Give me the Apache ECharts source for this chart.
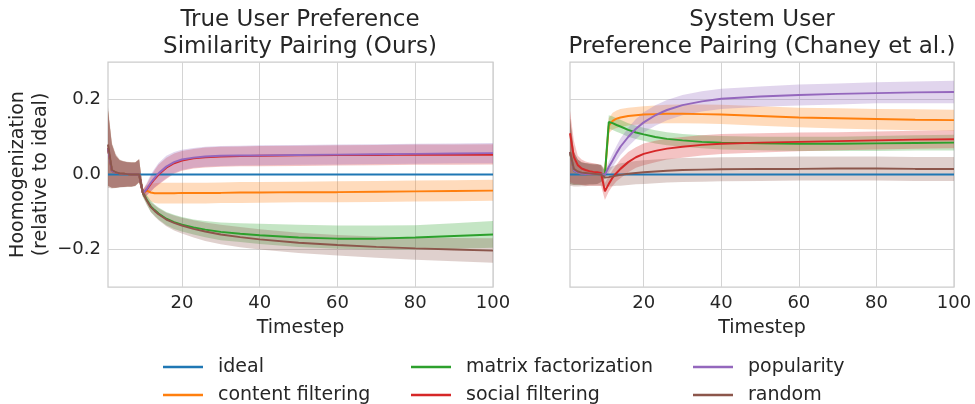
<!DOCTYPE html>
<html><head><meta charset="utf-8">
<script src="https://cdn.jsdelivr.net/npm/echarts@6/dist/echarts.min.js"></script>
<style>html,body{margin:0;padding:0;background:#fff}#c{width:975px;height:404px}</style>
</head><body><div id="c"></div>
<script>
// ---- data (timesteps sampled from the curves) ----
const xs = [1,2,3,4,5,6,7,8,9,10,11,12,13,14,16,18,20,23,26,30,35,40,50,60,70,80,90,100];
const xTicks = [20,40,60,80,100];
const yTicks = [-0.2,0,0.2];
const seriesNames = ['ideal','content filtering','matrix factorization','social filtering','popularity','random'];
const colors = ['#1f77b4','#ff7f0e','#2ca02c','#d62728','#9467bd','#8c564b'];
const titles = ['True User Preference\nSimilarity Pairing (Ours)','System User\nPreference Pairing (Chaney et al.)'];

// Left panel: True User Preference Similarity Pairing
const L_ideal   = [0,0,0,0,0,0,0,0,0,0,0,0,0,0,0,0,0,0,0,0,0,0,0,0,0,0,0,0];
const L_content = [0.07,0.01,0.005,0.003,0.002,0.001,0,0,0,-0.05,-0.043,-0.048,-0.05,-0.05,-0.05,-0.05,-0.049,-0.049,-0.049,-0.049,-0.048,-0.048,-0.047,-0.047,-0.046,-0.045,-0.044,-0.043];
const L_content_lo = [-0.03,-0.035,-0.035,-0.033,-0.033,-0.032,-0.032,-0.03,-0.02,-0.058,-0.06,-0.072,-0.076,-0.077,-0.077,-0.077,-0.077,-0.077,-0.077,-0.076,-0.076,-0.075,-0.074,-0.074,-0.073,-0.072,-0.071,-0.07];
const L_content_hi = [0.17,0.08,0.05,0.038,0.035,0.033,0.032,0.032,0.04,-0.04,-0.028,-0.025,-0.023,-0.022,-0.022,-0.022,-0.022,-0.022,-0.022,-0.021,-0.02,-0.02,-0.019,-0.018,-0.017,-0.016,-0.015,-0.014];
const L_matrix  = [0.07,0.01,0.005,0.003,0.002,0.001,0,0,0,-0.05,-0.068,-0.085,-0.095,-0.104,-0.118,-0.127,-0.134,-0.141,-0.147,-0.153,-0.158,-0.162,-0.168,-0.171,-0.171,-0.168,-0.164,-0.16];
const L_matrix_lo = [-0.03,-0.035,-0.035,-0.033,-0.033,-0.032,-0.032,-0.03,-0.02,-0.06,-0.08,-0.1,-0.11,-0.12,-0.135,-0.145,-0.152,-0.16,-0.167,-0.175,-0.18,-0.185,-0.193,-0.198,-0.2,-0.2,-0.198,-0.195];
const L_matrix_hi = [0.17,0.08,0.05,0.038,0.035,0.033,0.032,0.032,0.04,-0.04,-0.055,-0.07,-0.08,-0.088,-0.1,-0.107,-0.113,-0.12,-0.124,-0.128,-0.13,-0.131,-0.134,-0.136,-0.136,-0.135,-0.13,-0.124];
const L_social  = [0.07,0.01,0.005,0.003,0.002,0.001,0,0,0,-0.05,-0.04,-0.025,-0.012,0,0.018,0.03,0.037,0.043,0.046,0.048,0.049,0.05,0.051,0.052,0.052,0.053,0.053,0.053];
const L_social_lo = [-0.03,-0.035,-0.035,-0.033,-0.033,-0.032,-0.032,-0.03,-0.02,-0.06,-0.055,-0.045,-0.035,-0.027,-0.012,0.002,0.01,0.016,0.019,0.021,0.022,0.022,0.023,0.024,0.025,0.026,0.026,0.027];
const L_social_hi = [0.17,0.08,0.05,0.038,0.035,0.033,0.032,0.032,0.04,-0.04,-0.025,-0.005,0.012,0.027,0.045,0.056,0.063,0.068,0.072,0.074,0.075,0.076,0.077,0.078,0.079,0.08,0.08,0.081];
const L_pop     = [0.07,0.01,0.005,0.003,0.002,0.001,0,0,0,-0.05,-0.038,-0.022,-0.009,0.003,0.021,0.033,0.04,0.045,0.048,0.05,0.051,0.051,0.052,0.053,0.054,0.055,0.056,0.057];
const L_pop_lo = [-0.03,-0.035,-0.035,-0.033,-0.033,-0.032,-0.032,-0.03,-0.02,-0.06,-0.055,-0.045,-0.034,-0.025,-0.01,0.004,0.012,0.018,0.021,0.023,0.024,0.025,0.026,0.027,0.028,0.029,0.03,0.03];
const L_pop_hi = [0.17,0.08,0.05,0.038,0.035,0.033,0.032,0.032,0.04,-0.04,-0.022,0.0,0.016,0.031,0.05,0.06,0.066,0.071,0.074,0.076,0.077,0.078,0.079,0.08,0.081,0.082,0.083,0.084];
const L_random  = [0.08,0.012,0.006,0.003,0.002,0.001,0,0,0,-0.05,-0.07,-0.087,-0.097,-0.106,-0.12,-0.129,-0.136,-0.145,-0.152,-0.16,-0.167,-0.173,-0.182,-0.188,-0.193,-0.197,-0.2,-0.203];
const L_random_lo = [-0.035,-0.037,-0.036,-0.035,-0.034,-0.033,-0.033,-0.031,-0.022,-0.06,-0.082,-0.1,-0.112,-0.122,-0.138,-0.149,-0.157,-0.168,-0.177,-0.186,-0.194,-0.2,-0.209,-0.216,-0.222,-0.227,-0.231,-0.235];
const L_random_hi = [0.18,0.085,0.055,0.04,0.036,0.034,0.033,0.033,0.042,-0.04,-0.058,-0.074,-0.082,-0.09,-0.102,-0.109,-0.115,-0.122,-0.128,-0.134,-0.14,-0.146,-0.155,-0.161,-0.165,-0.168,-0.169,-0.17];

// Right panel: System User Preference Pairing
const R_ideal   = [0,0,0,0,0,0,0,0,0,0,0,0,0,0,0,0,0,0,0,0,0,0,0,0,0,0,0,0];
const R_content = [0.06,0.01,0.005,0.002,0.001,0,0,0,0,0,0.13,0.143,0.149,0.152,0.156,0.158,0.16,0.161,0.162,0.162,0.161,0.16,0.156,0.152,0.15,0.148,0.146,0.145];
const R_content_lo = [-0.025,-0.028,-0.028,-0.027,-0.027,-0.026,-0.026,-0.025,-0.02,-0.01,0.11,0.12,0.124,0.127,0.131,0.133,0.135,0.136,0.137,0.137,0.136,0.135,0.13,0.126,0.123,0.12,0.118,0.117];
const R_content_hi = [0.15,0.06,0.04,0.032,0.03,0.028,0.027,0.027,0.025,0.01,0.15,0.165,0.171,0.175,0.178,0.18,0.182,0.184,0.186,0.187,0.187,0.186,0.182,0.178,0.177,0.175,0.174,0.173];
const R_matrix  = [0.06,0.01,0.005,0.002,0.001,0,0,0,0,0,0.14,0.137,0.132,0.128,0.119,0.112,0.107,0.1,0.095,0.091,0.087,0.085,0.083,0.082,0.082,0.083,0.084,0.085];
const R_matrix_lo = [-0.025,-0.028,-0.028,-0.027,-0.027,-0.026,-0.026,-0.025,-0.02,-0.01,0.122,0.119,0.114,0.11,0.101,0.095,0.09,0.083,0.078,0.074,0.07,0.067,0.065,0.063,0.063,0.063,0.064,0.064];
const R_matrix_hi = [0.15,0.06,0.04,0.032,0.03,0.028,0.027,0.027,0.025,0.01,0.158,0.155,0.15,0.146,0.137,0.13,0.125,0.118,0.113,0.108,0.105,0.103,0.101,0.101,0.101,0.103,0.105,0.106];
const R_social  = [0.11,0.047,0.025,0.016,0.012,0.009,0.007,0.006,0.004,-0.045,-0.025,-0.008,0.004,0.015,0.033,0.046,0.055,0.063,0.069,0.074,0.079,0.082,0.085,0.087,0.089,0.091,0.093,0.094];
const R_social_lo = [-0.02,-0.025,-0.025,-0.028,-0.03,-0.03,-0.03,-0.03,-0.03,-0.068,-0.045,-0.03,-0.018,-0.01,0.006,0.018,0.025,0.033,0.04,0.045,0.051,0.055,0.059,0.062,0.065,0.067,0.069,0.07];
const R_social_hi = [0.17,0.09,0.05,0.04,0.035,0.032,0.03,0.028,0.025,-0.022,-0.005,0.012,0.026,0.04,0.06,0.073,0.083,0.09,0.096,0.1,0.105,0.108,0.11,0.112,0.113,0.115,0.117,0.118];
const R_pop     = [0.06,0.01,0.005,0.002,0.001,0,0,0,0,0,0.02,0.038,0.057,0.074,0.1,0.122,0.139,0.158,0.172,0.185,0.195,0.202,0.208,0.212,0.215,0.217,0.219,0.22];
const R_pop_lo = [-0.025,-0.028,-0.028,-0.027,-0.027,-0.026,-0.026,-0.025,-0.02,-0.008,0.005,0.02,0.036,0.052,0.075,0.095,0.112,0.13,0.145,0.158,0.168,0.175,0.181,0.184,0.187,0.19,0.19,0.19];
const R_pop_hi = [0.15,0.06,0.04,0.032,0.03,0.028,0.027,0.027,0.025,0.008,0.035,0.056,0.077,0.096,0.125,0.148,0.166,0.185,0.199,0.212,0.222,0.229,0.235,0.24,0.243,0.246,0.248,0.25];
const R_random  = [0.06,0.015,0.008,0.005,0.004,0.003,0.002,0.001,0,-0.008,-0.007,-0.005,-0.003,-0.001,0.002,0.004,0.006,0.008,0.01,0.012,0.013,0.014,0.015,0.015,0.016,0.016,0.015,0.015];
const R_random_lo = [-0.03,-0.032,-0.032,-0.031,-0.031,-0.03,-0.03,-0.03,-0.03,-0.032,-0.032,-0.031,-0.03,-0.03,-0.028,-0.026,-0.025,-0.023,-0.021,-0.02,-0.019,-0.018,-0.017,-0.016,-0.016,-0.016,-0.017,-0.017];
const R_random_hi = [0.15,0.06,0.04,0.033,0.031,0.03,0.029,0.028,0.027,0.015,0.018,0.022,0.026,0.03,0.033,0.036,0.038,0.04,0.042,0.044,0.045,0.046,0.047,0.048,0.048,0.048,0.047,0.047];

const panels = [
  {means:[L_ideal,L_content,L_matrix,L_social,L_pop,L_random],
   bands:[null,[L_content_lo,L_content_hi],[L_matrix_lo,L_matrix_hi],[L_social_lo,L_social_hi],[L_pop_lo,L_pop_hi],[L_random_lo,L_random_hi]]},
  {means:[R_ideal,R_content,R_matrix,R_social,R_pop,R_random],
   bands:[null,[R_content_lo,R_content_hi],[R_matrix_lo,R_matrix_hi],[R_social_lo,R_social_hi],[R_pop_lo,R_pop_hi],[R_random_lo,R_random_hi]]}
];

// ---- chart ----
const FONT = 'DejaVu Sans';
const TXT = '#262626';
const GRIDC = '#d4d4d4';

function fmtY(v){ if (Math.abs(v) < 1e-9) return '0.0'; return (v < 0 ? '\u2212' : '') + Math.abs(v).toFixed(1); }

const series = [];
panels.forEach((p, pi) => {
  p.bands.forEach((b, si) => {
    if (!b) return;
    const lo = b[0], hi = b[1], col = colors[si];
    series.push({
      type: 'custom', xAxisIndex: pi, yAxisIndex: pi, silent: true, z: 1, clip: true,
      data: xs.map((x, i) => [x, lo[i], hi[i]]),
      encode: {x: 0, y: [1, 2]},
      renderItem: function (params, api) {
        if (params.dataIndex !== 0) return null;
        const pts = [];
        for (let i = 0; i < xs.length; i++) pts.push(api.coord([xs[i], hi[i]]));
        for (let i = xs.length - 1; i >= 0; i--) pts.push(api.coord([xs[i], lo[i]]));
        return {type: 'polygon', shape: {points: pts}, style: {fill: col, opacity: 0.28}};
      }
    });
  });
  p.means.forEach((m, si) => {
    series.push({
      name: seriesNames[si], type: 'line', xAxisIndex: pi, yAxisIndex: pi,
      data: xs.map((x, i) => [x, m[i]]), showSymbol: false, symbol: 'none',
      lineStyle: {width: 2, color: colors[si]}, itemStyle: {color: colors[si]},
      z: 3, silent: true, animation: false
    });
  });
});

function legendCol(names, left) {
  return {
    data: names, left: left, top: 357, width: 240, height: 70, orient: 'vertical', icon: 'rect',
    itemWidth: 40, itemHeight: 2.5, itemGap: 8, selectedMode: false, padding: 0,
    textStyle: {fontSize: 19, lineHeight: 20, color: TXT, fontFamily: FONT, padding: [0, 0, 0, 10]}
  };
}

function xAxisDef(gi) {
  return {
    gridIndex: gi, type: 'value', min: 1, max: 100,
    name: 'Timestep', nameLocation: 'middle', nameGap: 25,
    nameTextStyle: {fontSize: 19, lineHeight: 22, color: TXT, fontFamily: FONT},
    axisLine: {show: false}, axisTick: {show: false, customValues: xTicks},
    axisLabel: {customValues: xTicks, fontSize: 18, color: TXT, fontFamily: FONT, margin: 7},
    splitLine: {show: true, lineStyle: {color: GRIDC, width: 1}}
  };
}
function yAxisDef(gi) {
  const d = {
    gridIndex: gi, type: 'value', min: -0.3, max: 0.3,
    axisLine: {show: false}, axisTick: {show: false, customValues: yTicks},
    axisLabel: {show: gi === 0, customValues: yTicks, formatter: fmtY, fontSize: 18, color: TXT, fontFamily: FONT, margin: 7},
    splitLine: {show: true, lineStyle: {color: GRIDC, width: 1}}
  };
  if (gi === 0) {
    d.name = 'Hoomogenization\n(relative to ideal)';
    d.nameLocation = 'middle'; d.nameRotate = 90; d.nameGap = 56;
    d.nameTextStyle = {fontSize: 19, lineHeight: 22.5, color: TXT, fontFamily: FONT, align: 'center'};
  }
  return d;
}

const option = {
  animation: false,
  backgroundColor: '#ffffff',
  textStyle: {fontFamily: FONT},
  title: [
    {text: titles[0], left: 300, top: 7, textAlign: 'center', padding: 0,
     textStyle: {fontSize: 23, lineHeight: 27, fontWeight: 'normal', color: TXT, fontFamily: FONT}},
    {text: titles[1], left: 762, top: 7, textAlign: 'center', padding: 0,
     textStyle: {fontSize: 23, lineHeight: 27, fontWeight: 'normal', color: TXT, fontFamily: FONT}}
  ],
  grid: [
    {left: 108, right: 482, top: 62, bottom: 117, show: true, borderColor: '#cccccc', borderWidth: 1.25, backgroundColor: 'transparent'},
    {left: 570, right: 21, top: 62, bottom: 117, show: true, borderColor: '#cccccc', borderWidth: 1.25, backgroundColor: 'transparent'}
  ],
  legend: [
    legendCol(['ideal', 'content filtering'], 163),
    legendCol(['matrix factorization', 'social filtering'], 411),
    legendCol(['popularity', 'random'], 693)
  ],
  xAxis: [xAxisDef(0), xAxisDef(1)],
  yAxis: [yAxisDef(0), yAxisDef(1)],
  series: series
};

const chart = echarts.init(document.getElementById('c'), null, {renderer: 'canvas'});
chart.setOption(option);
</script>
</body></html>
